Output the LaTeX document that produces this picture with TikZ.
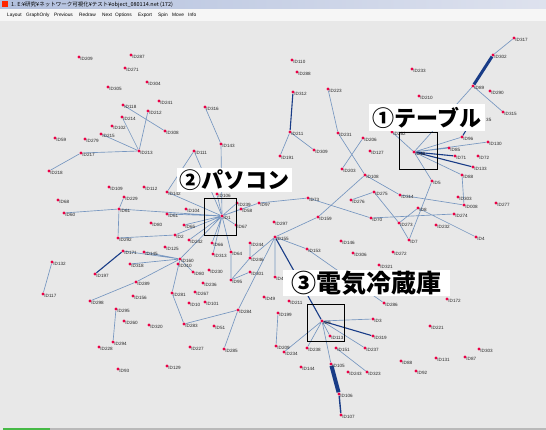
\documentclass[tikz,border=0pt]{standalone}
\usepackage{fontspec}
\setsansfont{Liberation Sans}
\newfontfamily\cjk{Noto Sans CJK JP}
\usetikzlibrary{backgrounds}
\definecolor{bgc}{RGB}{232,232,232}
\definecolor{dotc}{RGB}{235,0,70}
\definecolor{edgec}{RGB}{118,150,192}
\definecolor{darke}{RGB}{25,60,135}
\tikzset{
 dot/.style={circle,fill=dotc,inner sep=0pt,minimum size=3.2pt},
 lab/.style={anchor=west,inner sep=0pt,font=\fontsize{4.6}{5}\sffamily,text=black!85},
 ed/.style={edgec,line width=0.65pt},
 dk/.style={darke,line width=1.1pt},
 hv/.style={darke,line width=3pt},
 selbox/.style={draw=black,line width=1.1pt},
 ttl/.style={fill=white,inner sep=0pt,anchor=north west,font=\cjk\bfseries\fontsize{22}{24}\selectfont,text=black},
 menu/.style={anchor=west,inner sep=0pt,font=\fontsize{4.8}{5}\sffamily}
}
\newcommand{\N}[4]{\node[dot] (#1) at (#2,#3) {}; \node[lab] (#1l) at (#2+1.2,#3+2.3) {#4};}
\begin{document}
\begin{tikzpicture}[x=1pt,y=-1pt]
\useasboundingbox (0,0) rectangle (546,430);
% ---- nodes ----
\N{n209}{79}{57}{ID209}
\N{n287}{131}{55}{ID287}
\N{n271}{125}{68}{ID271}
\N{n305}{108}{87}{ID305}
\N{n304}{147}{82}{ID304}
\N{n118}{123}{105}{ID118}
\N{n241}{159}{101}{ID241}
\N{n214}{122}{117}{ID214}
\N{n212}{148}{111}{ID212}
\N{n102}{112}{126}{ID102}
\N{n308}{165}{131}{ID308}
\N{n215}{101}{134}{ID215}
\N{n279}{85}{139}{ID279}
\N{n59}{55}{138}{ID59}
\N{n217}{81}{153}{ID217}
\N{n213}{139}{151}{ID213}
\N{n218}{49}{171}{ID218}
\N{n316}{205}{107}{ID316}
\N{n143}{221}{144}{ID143}
\N{n111}{194}{151}{ID111}
\N{n110}{292}{60}{ID110}
\N{n288}{297}{72}{ID288}
\N{n312}{293}{92}{ID312}
\N{n223}{328}{89}{ID223}
\N{n211}{290}{132}{ID211}
\N{n231}{338}{133}{ID231}
\N{n206}{363}{138}{ID206}
\N{n309}{314}{150}{ID309}
\N{n127}{370}{151}{ID127}
\N{n191}{280}{156}{ID191}
\N{n203}{342}{169}{ID203}
\N{n108}{365}{175}{ID108}
\N{n233}{412}{69}{ID233}
\N{n317}{514}{38}{ID317}
\N{n302}{493}{55}{ID302}
\N{n89}{473}{86}{ID89}
\N{n290}{490}{91}{ID290}
\N{n210}{419}{96}{ID210}
\N{n315}{503}{112}{ID315}
\node[dot] (n135) at (474,117) {};
\N{n262}{392}{132}{ID262}
\N{n46}{414}{152}{ID46}
\N{n96}{462}{137}{ID96}
\N{n130}{488}{142}{ID130}
\N{n85}{449}{148}{ID85}
\N{n71}{455}{156}{ID71}
\N{n72}{478}{156}{ID72}
\N{n133}{473}{167}{ID133}
\N{n88}{462}{175}{ID88}
\N{n5}{432}{181}{ID5}
\N{n303}{458}{197}{ID303}
\N{n008}{464}{205}{ID008}
\N{n277}{496}{203}{ID277}
\N{n8}{418}{208}{ID8}
\N{n274}{454}{214}{ID274}
\N{n232}{436}{225}{ID232}
\N{n4}{476}{237}{ID4}
\N{n7}{409}{240}{ID7}
\N{n73}{308}{198}{ID73}
\N{n276}{351}{200}{ID276}
\N{n275}{374}{192}{ID275}
\N{n314}{400}{195}{ID314}
\N{n159}{318}{217}{ID159}
\N{n70}{371}{218}{ID70}
\N{n273}{399}{223}{ID273}
\N{n297}{274}{222}{ID297}
\N{n155}{275}{237}{ID155}
\N{n153}{307}{249}{ID153}
\N{n146}{341}{241}{ID146}
\N{n306}{353}{253}{ID306}
\N{n272}{393}{252}{ID272}
\N{n321}{379}{265}{ID321}
\N{n40}{275}{277}{ID40}
\N{n49}{264}{297}{ID49}
\N{n211b}{289}{301}{ID211}
\N{n199}{278}{313}{ID199}
\N{n286}{384}{303}{ID286}
\N{n172}{447}{299}{ID172}
\N{n9}{322}{321}{ID9}
\N{n3}{373}{319}{ID3}
\N{n221}{430}{326}{ID221}
\N{n319}{373}{336}{ID319}
\N{n113}{330}{336}{ID113}
\N{n209b}{276}{346}{ID209}
\N{n234}{284}{352}{ID234}
\N{n238b}{307}{348}{ID238}
\N{n151}{336}{348}{ID151}
\N{n237}{365}{348}{ID237}
\N{n303b}{479}{349}{ID303}
\N{n88b}{401}{361}{ID88}
\N{n131}{436}{358}{ID131}
\N{n87}{465}{357}{ID87}
\N{n105}{331}{364}{ID105}
\N{n144}{301}{367}{ID144}
\N{n243}{348}{372}{ID243}
\N{n323}{367}{372}{ID323}
\N{n92}{416}{371}{ID92}
\N{n106b}{339}{394}{ID106}
\N{n107}{341}{415}{ID107}
\N{n1}{222}{216}{ID1}
\N{n106}{217}{194}{ID106}
\N{n239}{237}{203}{ID239}
\N{n58}{241}{209}{ID58}
\N{n97}{259}{203}{ID97}
\N{n67}{236}{225}{ID67}
\N{n66}{212}{243}{ID66}
\N{n64}{231}{252}{ID64}
\N{n313}{213}{254}{ID313}
\N{n244}{250}{243}{ID244}
\N{n246}{250}{258}{ID246}
\N{n301}{250}{272}{ID301}
\N{n230}{209}{270}{ID230}
\N{n80b}{193}{272}{ID80}
\N{n95}{231}{280}{ID95}
\N{n236}{203}{283}{ID236}
\N{n2}{175}{235}{ID2}
\N{n242}{189}{240}{ID242}
\N{n125}{165}{247}{ID125}
\N{n145}{144}{252}{ID145}
\N{n160}{180}{259}{ID160}
\N{n310}{178}{264}{ID310}
\N{n65}{184}{225}{ID65}
\N{n61b}{167}{214}{ID61}
\N{n80}{151}{223}{ID80}
\N{n104}{186}{209}{ID104}
\N{n142}{167}{192}{ID142}
\N{n112}{144}{187}{ID112}
\N{n109}{109}{187}{ID109}
\N{n229}{124}{197}{ID229}
\N{n68}{58}{200}{ID68}
\N{n60}{64}{213}{ID60}
\N{n61}{119}{209}{ID61}
\N{n292}{118}{238}{ID292}
\N{n171}{123}{251}{ID171}
\N{n318}{130}{264}{ID318}
\N{n132}{52}{262}{ID132}
\N{n197}{95}{274}{ID197}
\N{n289}{136}{282}{ID289}
\N{n117}{43}{294}{ID117}
\N{n298}{90}{301}{ID298}
\N{n156}{133}{296}{ID156}
\N{n295}{116}{309}{ID295}
\N{n260}{124}{321}{ID260}
\N{n294}{113}{342}{ID294}
\N{n228}{99}{347}{ID228}
\N{n93}{118}{369}{ID93}
\N{n320}{149}{325}{ID320}
\N{n281}{172}{293}{ID281}
\N{n267}{195}{292}{ID267}
\N{n10}{189}{303}{ID10}
\N{n101}{205}{302}{ID101}
\N{n283}{184}{324}{ID283}
\N{n51}{214}{326}{ID51}
\N{n284}{238}{310}{ID284}
\N{n227}{190}{347}{ID227}
\N{n285}{224}{349}{ID285}
\N{n129}{167}{366}{ID129}
% ---- selection boxes ----
\node[selbox,minimum width=38pt,minimum height=37pt,anchor=north west,inner sep=0pt] (box1) at (399,132) {};
\node[selbox,minimum width=32pt,minimum height=37pt,anchor=north west,inner sep=0pt] (box2) at (204,198) {};
\node[selbox,minimum width=37pt,minimum height=37pt,anchor=north west,inner sep=0pt] (box3) at (307,304) {};
% ---- titles ----
\node[ttl,minimum width=116pt,minimum height=27pt] (t1) at (369,104) {①テーブル};
\node[lab] (n135l) at (486,119.5) {35};
\node[ttl,minimum width=115pt,minimum height=24pt] (t2) at (177,168) {②パソコン};
\node[ttl,minimum width=167pt,minimum height=26pt,font=\cjk\bfseries\fontsize{25}{26}\selectfont] (t3) at (283,270) {③電気冷蔵庫};
% ---- background + edges ----
\begin{pgfonlayer}{background}
\fill[bgc] (0,0) rectangle (546,430);
\shade[left color={rgb,255:red,178;green,192;blue,222},right color={rgb,255:red,222;green,226;blue,238}] (0,0) rectangle (546,9);
\fill[white!93!gray] (0,9) rectangle (546,21);
\fill[red!70!orange] (2,1.5) rectangle (8,7.5);
\node[anchor=west,inner sep=0pt,font=\cjk\fontsize{5.5}{6}\selectfont] (wtitle) at (11,4.5) {1. E:¥研究¥ネットワーク可視化¥テスト¥object\_080114.net (172)};
\node[menu] (m1) at (7,15) {Layout};
\node[menu] (m2) at (26,15) {GraphOnly};
\node[menu] (m3) at (54,15) {Previous};
\node[menu] (m4) at (79,15) {Redraw};
\node[menu] (m5) at (102,15) {Next};
\node[menu] (m6) at (115,15) {Options};
\node[menu] (m7) at (138,15) {Export};
\node[menu] (m8) at (158,15) {Spin};
\node[menu] (m9) at (172,15) {Move};
\node[menu] (m10) at (188,15) {Info};
\fill[green!45!gray] (3,427.5) rectangle (50,430);
\fill[gray!55] (50,427.5) rectangle (546,430);
% edges top-left
\draw[ed] (n118)--(n308) (n214)--(n213) (n215)--(n213) (n217)--(n213) (n212)--(n213) (n217)--(n218);
\draw[ed] (n316)--(n143) (n143)--(n1) (n111)--(n142) (n111)--(n1);
% top middle
\draw[dk] (n312)--(n211);
\draw[ed] (n211)--(n191) (n211)--(n309) (n223)--(n231) (n231)--(n108) (n206)--(n203);
\draw[ed] (n108)--(n159) (n108)--(n314) (n314)--(n008);
% top right
\draw[ed] (n317)--(n302) (n89)--(n315) (n89)--(n46);
\draw[hv] (n302)--(n89);
\draw[dk] (n46)--(n71) (n46)--(n133) (n135)--(n96);
\draw[ed] (n46)--(n96) (n46)--(n130) (n46)--(n88) (n46)--(n5) (n46)--(n85) (n46)--(n262);
\draw[ed] (n88)--(n008) (n5)--(n7) (n8)--(n4) (n8)--(n273) (n70)--(n274);
% middle
\draw[ed] (n276)--(n275) (n275)--(n273) (n273)--(n7) (n73)--(n70) (n97)--(n73);
\draw[ed] (n159)--(n155) (n155)--(n153) (n155)--(n40) (n153)--(n286) (n155)--(n284) (n155)--(n246);
\draw[dk] (n155)--(n9);
% bottom right
\draw[ed] (n199)--(n209b) (n9)--(n3) (n9)--(n237) (n9)--(n238b) (n9)--(n234) (n9)--(n105) (n9)--(n113) (n151)--(n323);
\draw[dk] (n9)--(n319);
\draw[darke,line width=4pt] (n105)--(n106b);
\draw[darke,line width=1.4pt] (n106b)--(n107);
% star ID1
\draw[ed] (n1)--(n106) (n1)--(n239) (n1)--(n58) (n1)--(n97) (n1)--(n67) (n1)--(n66) (n1)--(n64) (n1)--(n65) (n1)--(n61b) (n1)--(n142) (n1)--(n2) (n1)--(n242) (n1)--(n61) (n1)--(n160) (n1)--(n313);
\draw[ed] (n60)--(n61) (n229)--(n61) (n61)--(n292) (n292)--(n2) (n171)--(n160) (n318)--(n160) (n289)--(n298) (n160)--(n289) (n160)--(n281) (n160)--(n80b) (n160)--(n145);
\draw[dk] (n171)--(n197);
\draw[ed] (n132)--(n117) (n295)--(n294) (n281)--(n283) (n283)--(n284) (n284)--(n285) (n64)--(n95) (n244)--(n246) (n246)--(n95) (n301)--(n95);
\end{pgfonlayer}
\end{tikzpicture}
\end{document}
